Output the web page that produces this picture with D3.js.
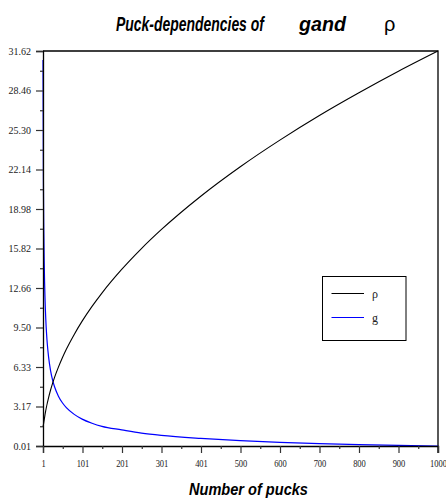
<!DOCTYPE html>
<html>
<head>
<meta charset="utf-8">
<script src="https://cdn.jsdelivr.net/npm/d3@7"></script>
<style>
  html, body { margin: 0; padding: 0; background: #fff; }
  svg { display: block; }
</style>
</head>
<body>
<svg id="chart" width="446" height="499"></svg>
<script>
// Number of pucks at which both quantities are sampled
const pucks = [1, 2, 3, 4, 5, 6, 8, 10, 12, 15, 20, 25, 30, 40, 50, 60, 80, 100,
  125, 150, 200, 250, 300, 400, 500, 600, 700, 800, 900, 1000];
// rho series
const rhoValues = [1.55, 1.7, 1.9, 2.1, 2.3, 2.5, 2.85, 3.17, 3.46, 3.87, 4.47, 5.0,
  5.48, 6.32, 7.07, 7.75, 8.94, 10.0, 11.18, 12.25, 14.14, 15.81, 17.32, 20.0,
  22.36, 24.49, 26.46, 28.28, 30.0, 31.62];
// g series
const gValues = [30.9, 21.36, 17.26, 14.81, 13.14, 11.91, 10.18, 9.0, 8.13, 7.16,
  6.07, 5.32, 4.77, 4.0, 3.47, 3.08, 2.54, 2.16, 1.83, 1.58, 1.3, 1.04, 0.86,
  0.62, 0.44, 0.3, 0.2, 0.12, 0.055, 0.01];

const xTickValues = [1, 100.9, 200.8, 300.7, 400.6, 500.5, 600.4, 700.3, 800.2, 900.1, 1000];
const xTickLabels = ["1", "101", "201", "301", "401", "500", "600", "700", "800", "900", "1000"];
const yTickValues = [0.01, 3.171, 6.332, 9.493, 12.654, 15.815, 18.976, 22.137, 25.298, 28.459, 31.62];
const yTickLabels = ["0.01", "3.17", "6.33", "9.50", "12.66", "15.82", "18.98", "22.14", "25.30", "28.46", "31.62"];

const svg = d3.select("#chart");
const plotLeft = 43, plotRight = 438, plotTop = 51, plotBottom = 446;

const x = d3.scaleLinear().domain([1, 1000]).range([plotLeft, plotRight]);
const y = d3.scaleLinear().domain([0.01, 31.62]).range([plotBottom, plotTop]);

// Minor ticks sit halfway between the labelled ones
const mid = arr => arr.slice(1).map((v, i) => (v + arr[i]) / 2);

// Frame (top and right edges)
svg.append("path")
  .attr("d", `M${plotLeft},${plotTop}H${plotRight}V${plotBottom + 7}`)
  .attr("fill", "none").attr("stroke", "#000").attr("stroke-width", 1.3);

// Curves
const line = vals => d3.line()
  .x((d, i) => x(pucks[i]))
  .y(d => y(d))
  .curve(d3.curveMonotoneX)(vals);

svg.append("path").attr("d", line(gValues))
  .attr("fill", "none").attr("stroke", "#0000ff").attr("stroke-width", 1.2);
svg.append("path").attr("d", line(rhoValues))
  .attr("fill", "none").attr("stroke", "#000").attr("stroke-width", 1.1);

// Y axis
svg.append("g").attr("transform", `translate(${plotLeft},0)`)
  .call(d3.axisLeft(y).tickValues(yTickValues)
    .tickFormat((d, i) => yTickLabels[i]).tickSizeOuter(0).tickSize(7).tickPadding(5));
svg.append("g").attr("transform", `translate(${plotLeft},0)`)
  .call(d3.axisLeft(y).tickValues(mid(yTickValues)).tickFormat("").tickSizeOuter(0).tickSize(3))
  .select(".domain").remove();

// X axis
const xAxis = svg.append("g").attr("transform", `translate(0,${plotBottom})`)
  .call(d3.axisBottom(x).tickValues(xTickValues)
    .tickFormat((d, i) => xTickLabels[i]).tickSizeOuter(0).tickSize(7).tickPadding(7));
svg.append("g").attr("transform", `translate(0,${plotBottom})`)
  .call(d3.axisBottom(x).tickValues(mid(xTickValues)).tickFormat("").tickSizeOuter(0).tickSize(3))
  .select(".domain").remove();

svg.selectAll(".domain").attr("stroke-width", 1.3);
svg.selectAll(".tick line").attr("stroke", "#333").attr("stroke-width", 1.2);
svg.selectAll(".tick text")
  .attr("font-family", "'Liberation Serif', 'Times New Roman', serif")
  .attr("font-size", 10).attr("fill", "#222");
xAxis.selectAll(".tick text").attr("transform", "scale(0.85,1)");

// Condensed text: scale horizontally so the string spans the given width
const titleFont = "'Liberation Sans', Arial, sans-serif";
function narrowText(str, x0, y0, width, size, bold) {
  const t = svg.append("text")
    .attr("font-family", titleFont).attr("font-size", size)
    .attr("font-weight", bold ? "bold" : "normal")
    .attr("font-style", bold ? "italic" : "normal")
    .text(str);
  const natural = t.node().getComputedTextLength();
  t.attr("transform", `translate(${x0},${y0}) scale(${width / natural},1)`);
  return t;
}

// Title
narrowText("Puck-dependencies of", 116, 31, 148, 21, true);
narrowText("gand", 299, 31, 47, 21, true);
svg.append("text").attr("x", 384).attr("y", 31)
  .attr("font-family", titleFont).attr("font-size", 20)
  .text("ρ");

// X axis title
narrowText("Number of pucks", 189, 495, 119, 16, true);

// Legend
const legend = svg.append("g");
legend.append("rect").attr("x", 322.5).attr("y", 276.5).attr("width", 83.5).attr("height", 64)
  .attr("fill", "#fff").attr("stroke", "#000").attr("stroke-width", 1);
const legendItems = [
  { label: "ρ", color: "#000", yPos: 293.5 },
  { label: "g", color: "#0000ff", yPos: 317.5 }
];
legendItems.forEach(it => {
  legend.append("line").attr("x1", 331.5).attr("x2", 364).attr("y1", it.yPos).attr("y2", it.yPos)
    .attr("stroke", it.color).attr("stroke-width", 1.2);
  legend.append("text").attr("x", 372).attr("y", it.yPos + 4)
    .attr("font-family", "'Liberation Serif', 'Times New Roman', serif")
    .attr("font-size", 12).attr("fill", "#222").text(it.label);
});
</script>
</body>
</html>
